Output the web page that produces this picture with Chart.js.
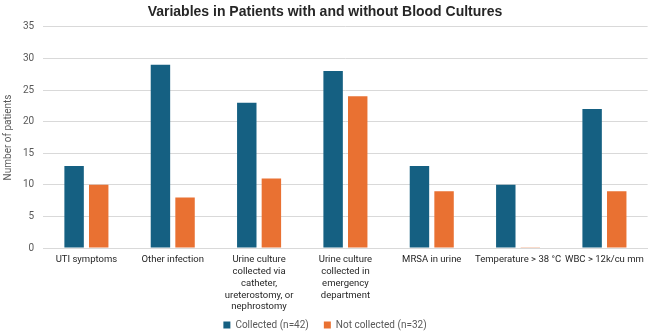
<!DOCTYPE html>
<html>
<head>
<meta charset="utf-8">
<script src="https://cdn.jsdelivr.net/npm/chart.js@4"></script>
<style>
  body { margin: 0; background: #fff; }
  #wrap { width: 650px; height: 331px; position: relative; }
</style>
</head>
<body>
<div id="wrap"><canvas id="chart"></canvas></div>
<script>
const categories = [
  "UTI symptoms",
  "Other infection",
  ["Urine culture", "collected via", "catheter,", "ureterostomy, or", "nephrostomy"],
  ["Urine culture", "collected in", "emergency", "department"],
  "MRSA in urine",
  "Temperature > 38 \u00b0C",
  "WBC > 12k/cu mm"
];
const collected = [13, 29, 23, 28, 13, 10, 22];
const notCollected = [10, 8, 11, 24, 9, 0.15, 9];
const yTicks = [0, 5, 10, 15, 20, 25, 30, 35];

const gray = "#595959";
Chart.defaults.font.family = "Roboto, 'Liberation Sans', Arial, sans-serif";
Chart.defaults.font.size = 10;
Chart.defaults.color = gray;

// keep the legend row tight to the bottom edge while spacing the items apart
const legendFit = {
  id: "legendFit",
  beforeLayout(chart) {
    const lg = chart.legend;
    if (lg && !lg._tight) {
      const orig = lg.fit.bind(lg);
      lg.fit = function () {
        orig();
        this.height = 12;
      };
      lg._tight = true;
    }
  },
  afterLayout(chart) {
    const lg = chart.legend;
    // row centre near the bottom, like the original
    lg.top = chart.height - 5 - 6 - lg.options.labels.padding;
    lg.bottom = chart.height;
    lg.height = lg.bottom - lg.top;
  }
};

const ctx = document.getElementById("chart").getContext("2d");
new Chart(ctx, {
  type: "bar",
  data: {
    labels: categories,
    datasets: [
      {
        label: "Collected (n=42)",
        data: collected,
        backgroundColor: "#156082",
        categoryPercentage: 0.57,
        barPercentage: 0.79
      },
      {
        label: "Not collected (n=32)",
        data: notCollected,
        backgroundColor: "#e97132",
        categoryPercentage: 0.57,
        barPercentage: 0.79
      }
    ]
  },
  plugins: [legendFit],
  options: {
    responsive: true,
    maintainAspectRatio: false,
    animation: false,
    layout: { padding: { left: 2, right: 2, top: 0, bottom: 0 } },
    plugins: {
      title: {
        display: true,
        text: "Variables in Patients with and without Blood Cultures",
        color: "#262626",
        font: { family: "'Liberation Sans', Arial, sans-serif", size: 14, weight: "bold" },
        padding: { top: 4, bottom: 6 }
      },
      legend: {
        position: "bottom",
        labels: {
          boxWidth: 7,
          boxHeight: 7,
          padding: 15,
          color: gray,
          font: { size: 10 }
        }
      },
      tooltip: { enabled: false }
    },
    scales: {
      x: {
        grid: { display: false, drawTicks: false },
        border: { color: "#d9d9d9" },
        ticks: {
          maxRotation: 0,
          autoSkip: false,
          color: "#262626",
          padding: 6,
          font: { size: 9.5, lineHeight: 1.24 }
        }
      },
      y: {
        min: 0,
        max: 35,
        afterBuildTicks: (axis) => { axis.ticks = yTicks.map((v) => ({ value: v })); },
        grid: { color: "#d9d9d9", drawTicks: false },
        border: { display: false },
        ticks: { color: gray, padding: 9 },
        title: {
          display: true,
          text: "Number of patients",
          color: gray,
          font: { size: 10 },
          padding: 0
        }
      }
    }
  }
});
</script>
</body>
</html>
